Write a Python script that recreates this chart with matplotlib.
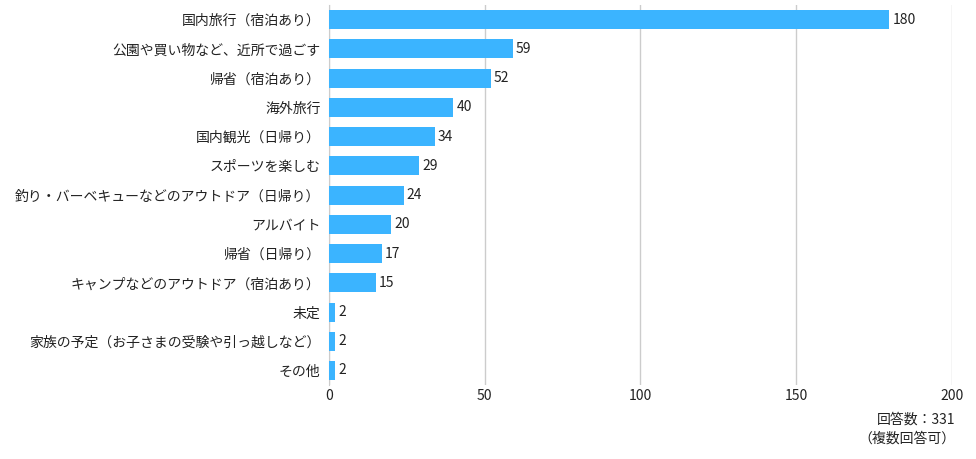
import matplotlib
matplotlib.use("Agg")
import matplotlib.pyplot as plt

plt.rcParams['font.family'] = ['Noto Sans CJK JP', 'DejaVu Sans']

categories = [
    '国内旅行（宿泊あり）',
    '公園や買い物など、近所で過ごす',
    '帰省（宿泊あり）',
    '海外旅行',
    '国内観光（日帰り）',
    'スポーツを楽しむ',
    '釣り・バーベキューなどのアウトドア（日帰り）',
    'アルバイト',
    '帰省（日帰り）',
    'キャンプなどのアウトドア（宿泊あり）',
    '未定',
    '家族の予定（お子さまの受験や引っ越しなど）',
    'その他',
]
values = [180, 59, 52, 40, 34, 29, 24, 20, 17, 15, 2, 2, 2]
xticks = [0, 50, 100, 150, 200]

fig = plt.figure(figsize=(9.76, 4.59), dpi=100)
ax = fig.add_axes([0.337, 0.161, 0.638, 0.828])

pos = list(range(len(categories)))
ax.barh(pos, values, height=0.65, color='#3bb4ff', zorder=3)
for p, v in zip(pos, values):
    ax.text(v + 1.0, p, str(v), va='center', ha='left', fontsize=10, color='#222222')

ax.set_ylim(len(categories) - 0.5, -0.5)
ax.set_xlim(0, 200)
ax.set_yticks(pos)
ax.set_yticklabels(categories, fontsize=10, color='#222222')
ax.set_xticks(xticks)
ax.set_xticklabels([str(t) for t in xticks], fontsize=10, color='#222222')
ax.tick_params(axis='both', length=0)
ax.tick_params(axis='y', pad=6)
ax.tick_params(axis='x', pad=3)
ax.grid(axis='x', color='#cccccc', linewidth=1, zorder=0)
for s in ['top', 'right', 'bottom']:
    ax.spines[s].set_visible(False)
ax.spines['left'].set_color('#cccccc')

fig.text(0.979, 0.085, '回答数：331', ha='right', va='center', fontsize=10, color='#222222')
fig.text(0.979, 0.045, '（複数回答可）', ha='right', va='center', fontsize=10, color='#222222')

fig.savefig('out.png', dpi=100)
